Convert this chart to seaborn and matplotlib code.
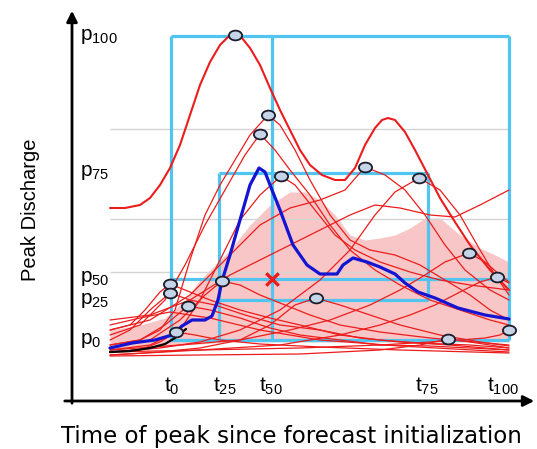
import numpy as np
import pandas as pd
import seaborn as sns
import matplotlib.pyplot as plt
from matplotlib.path import Path
from matplotlib.markers import MarkerStyle

# ensemble members: time of forecast (arbitrary units) and discharge
m01_t = [0, 15, 30, 40, 50, 60, 70, 80, 90, 100, 110, 118, 125, 132, 140, 150, 160, 170, 180, 190, 200, 212, 225, 235, 245, 255, 265, 272, 278, 285, 295, 305, 318, 330, 345, 360, 380, 399]
m01_q = [192, 192, 195, 202, 215, 232, 255, 285, 315, 338, 355, 363, 365, 362, 352, 335, 312, 290, 270, 250, 235, 225, 220, 220, 232, 255, 272, 280, 282, 280, 268, 250, 225, 202, 178, 155, 130, 110]
m02_t = [0, 30, 50, 65, 80, 95, 110, 125, 140, 158, 170, 185, 200, 220, 240, 260, 285, 310, 335, 360, 380, 399]
m02_q = [55, 60, 70, 90, 140, 185, 215, 240, 265, 285, 275, 250, 220, 185, 160, 150, 145, 135, 120, 105, 90, 80]
m03_t = [0, 30, 55, 75, 95, 115, 135, 150, 165, 180, 200, 220, 240, 265, 290, 320, 350, 380, 399]
m03_q = [65, 75, 100, 135, 175, 210, 245, 266, 250, 230, 205, 175, 150, 130, 115, 100, 90, 80, 75]
m04_t = [0, 40, 70, 90, 110, 130, 150, 171, 185, 205, 225, 245, 270, 300, 330, 360, 399]
m04_q = [50, 55, 70, 100, 140, 180, 205, 224, 215, 190, 165, 150, 138, 128, 120, 115, 110]
m05_t = [0, 40, 80, 120, 150, 180, 210, 235, 255, 275, 295, 315, 335, 355, 380, 399]
m05_q = [70, 80, 105, 145, 175, 192, 200, 210, 233, 225, 210, 185, 155, 130, 110, 100]
m06_t = [0, 50, 90, 130, 170, 210, 240, 265, 285, 309, 330, 350, 370, 385, 399]
m06_q = [48, 52, 58, 70, 90, 120, 150, 185, 208, 222, 210, 185, 150, 125, 105]
m07_t = [0, 20, 35, 50, 60, 75, 100, 130, 160, 190, 230, 270, 310, 360, 399]
m07_q = [70, 75, 90, 108, 116, 110, 100, 90, 82, 75, 65, 60, 57, 55, 52]
m08_t = [0, 20, 40, 60, 80, 105, 135, 170, 210, 250, 290, 340, 399]
m08_q = [60, 70, 90, 107, 100, 95, 85, 75, 70, 62, 58, 55, 50]
m09_t = [0, 30, 55, 78, 100, 130, 160, 190, 230, 270, 320, 399]
m09_q = [55, 60, 75, 94, 90, 82, 72, 65, 60, 55, 54, 50]
m10_t = [0, 40, 70, 95, 112, 130, 150, 175, 200, 230, 270, 320, 399]
m10_q = [52, 60, 80, 105, 119, 115, 105, 95, 85, 75, 68, 62, 55]
m11_t = [0, 30, 50, 66, 85, 110, 150, 210, 290, 399]
m11_q = [48, 50, 58, 68, 65, 60, 56, 53, 50, 47]
m12_t = [0, 50, 90, 130, 160, 185, 206, 230, 260, 290, 330, 370, 399]
m12_q = [45, 48, 52, 60, 75, 95, 102, 95, 85, 75, 65, 58, 54]
m13_t = [0, 70, 130, 180, 220, 260, 290, 315, 335, 359, 375, 390, 399]
m13_q = [50, 55, 60, 70, 80, 95, 110, 125, 138, 147, 138, 125, 118]
m14_t = [0, 90, 170, 230, 270, 300, 325, 350, 370, 387, 399]
m14_q = [45, 50, 55, 65, 75, 85, 95, 108, 118, 123, 117]
m15_t = [0, 90, 190, 270, 320, 350, 375, 390, 399]
m15_q = [48, 50, 52, 55, 58, 60, 62, 65, 70]
m16_t = [0, 90, 190, 270, 310, 338, 360, 380, 399]
m16_q = [44, 45, 46, 50, 55, 61, 58, 55, 52]
m17_t = [0, 40, 80, 120, 160, 200, 240, 265, 290, 320, 345, 370, 399]
m17_q = [80, 85, 100, 125, 145, 165, 185, 195, 192, 185, 183, 195, 210]
m18_t = [0, 30, 60, 100, 150, 210, 290, 399]
m18_q = [75, 82, 88, 82, 70, 60, 54, 48]

# deterministic forecast (blue) and observations (black)
det_t = [0, 22, 45, 62, 72, 82, 95, 102, 108, 112, 120, 130, 140, 149, 155, 162, 170, 183, 197, 210, 227, 233, 243, 257, 270, 285, 295, 308, 325, 348, 375, 399]
det_q = [52, 57, 60, 65, 74, 80, 80, 84, 100, 119, 145, 180, 215, 232, 228, 210, 190, 155, 135, 126, 126, 135, 142, 138, 133, 126, 117, 108, 102, 92, 85, 81]
obs_t = [0, 20, 40, 55, 65, 76]
obs_q = [48, 49, 52, 56, 62, 71]

# shaded ensemble range
band_t = [0, 30, 55, 75, 90, 105, 120, 140, 160, 180, 195, 210, 225, 240, 255, 270, 285, 300, 315, 330, 350, 370, 385, 399]
band_hi = [70, 75, 82, 100, 120, 135, 150, 175, 195, 208, 208, 200, 185, 165, 160, 162, 165, 172, 182, 182, 165, 152, 145, 138]
band_lo = [47, 50, 53, 55, 56, 57, 58, 58, 58, 58, 58, 58, 58, 58, 58, 58, 58, 58, 58, 58, 58, 58, 58, 58]

# percentiles of peak timing and peak discharge
t_pct = [61, 109, 162, 318, 399]
p_pct = [60, 100, 121, 227, 364]
t_names = ["t$_{0}$", "t$_{25}$", "t$_{50}$", "t$_{75}$", "t$_{100}$"]
p_names = ["p$_{0}$", "p$_{25}$", "p$_{50}$", "p$_{75}$", "p$_{100}$"]
grid_q = [128, 181, 271]

members = {
    "m01": (m01_t, m01_q), "m02": (m02_t, m02_q), "m03": (m03_t, m03_q),
    "m04": (m04_t, m04_q), "m05": (m05_t, m05_q), "m06": (m06_t, m06_q),
    "m07": (m07_t, m07_q), "m08": (m08_t, m08_q), "m09": (m09_t, m09_q),
    "m10": (m10_t, m10_q), "m11": (m11_t, m11_q), "m12": (m12_t, m12_q),
    "m13": (m13_t, m13_q), "m14": (m14_t, m14_q), "m15": (m15_t, m15_q),
    "m16": (m16_t, m16_q), "m17": (m17_t, m17_q), "m18": (m18_t, m18_q),
}
unmarked = ["m17", "m18"]

rows = []
for name, (tt, qq) in members.items():
    for a, b in zip(tt, qq):
        rows.append((name, a, b))
df = pd.DataFrame(rows, columns=["member", "time", "discharge"])
peaks = df.loc[df.groupby("member")["discharge"].idxmax()]
peaks = peaks[~peaks["member"].isin(unmarked)]

sns.set_style("white")
plt.rcParams["font.family"] = ["Liberation Sans", "DejaVu Sans"]
plt.rcParams["mathtext.default"] = "regular"
plt.rcParams["text.color"] = "black"

fig = plt.figure(figsize=(5.37, 4.49), dpi=100)
ax = fig.add_axes([0, 0, 1, 1])
ax.axis("off")

red = "#ec1c1c"
cyan = "#52c4f0"

ax.fill_between(band_t, band_lo, band_hi, color="#f8c6c6", lw=0, zorder=1)
ax.hlines(grid_q, 0, 400, color="#d4d4d4", lw=1, zorder=2)

# boxes spanned by the percentiles
lw_box = 2.3
ax.vlines([t_pct[0], t_pct[2], t_pct[4]], p_pct[0], p_pct[4], color=cyan, lw=lw_box, zorder=3)
ax.vlines(t_pct[1], p_pct[0], p_pct[3], color=cyan, lw=lw_box, zorder=3)
ax.vlines(t_pct[3], p_pct[1], p_pct[3], color=cyan, lw=lw_box, zorder=3)
ax.hlines([p_pct[0], p_pct[2], p_pct[4]], t_pct[0], t_pct[4], color=cyan, lw=lw_box, zorder=3)
ax.hlines([p_pct[1], p_pct[3]], t_pct[1], t_pct[3], color=cyan, lw=lw_box, zorder=3)

sns.lineplot(data=df[df.member != "m01"], x="time", y="discharge", units="member",
             estimator=None, sort=False, color=red, lw=0.9, ax=ax, legend=False, zorder=4)
sns.lineplot(data=df[df.member == "m01"], x="time", y="discharge",
             estimator=None, sort=False, color=red, lw=1.5, ax=ax, legend=False, zorder=4)
sns.lineplot(x=det_t, y=det_q, estimator=None, sort=False, color="#1414d2", lw=2.3, ax=ax, zorder=5)
sns.lineplot(x=obs_t, y=obs_q, estimator=None, sort=False, color="black", lw=1.6, ax=ax, zorder=5)

ellipse = Path(Path.unit_circle().vertices * [1.35, 1.0], Path.unit_circle().codes)
sns.scatterplot(data=peaks, x="time", y="discharge", marker=MarkerStyle(ellipse), s=90,
                facecolor="#c6d4e8", edgecolor="#1c1c2c", linewidth=1.3, ax=ax, zorder=6)
ax.scatter([t_pct[2]], [p_pct[2]], marker="x", s=80, color=red, linewidths=2.4, zorder=6)

ax.set_xlim(-110, 427)
ax.set_ylim(-49, 400)
ax.axis("off")

# percentile labels
for q, lab in zip(p_pct, p_names):
    ax.text(-30, q, lab, fontsize=15, ha="left", va="center", color="black")
t_lab_x = [54, 103, 149, 305, 377]
for x, lab in zip(t_lab_x, t_names):
    ax.text(x, 8, lab, fontsize=15, ha="left", va="baseline", color="black")

# axes arrows
ax.annotate("", xy=(-38, 392), xytext=(-38, -6),
            arrowprops=dict(arrowstyle="-|>", lw=2, color="black", mutation_scale=16))
ax.annotate("", xy=(427, -1), xytext=(-48, -1),
            arrowprops=dict(arrowstyle="-|>", lw=2, color="black", mutation_scale=16))

ax.text(-80, 190, "Peak Discharge", rotation=90, fontsize=14.5, ha="center", va="center", color="black")
ax.text(181, -37, "Time of peak since forecast initialization", fontsize=16.5,
        family="DejaVu Sans", ha="center", va="center", color="black")

fig.savefig("out.png", dpi=100)
